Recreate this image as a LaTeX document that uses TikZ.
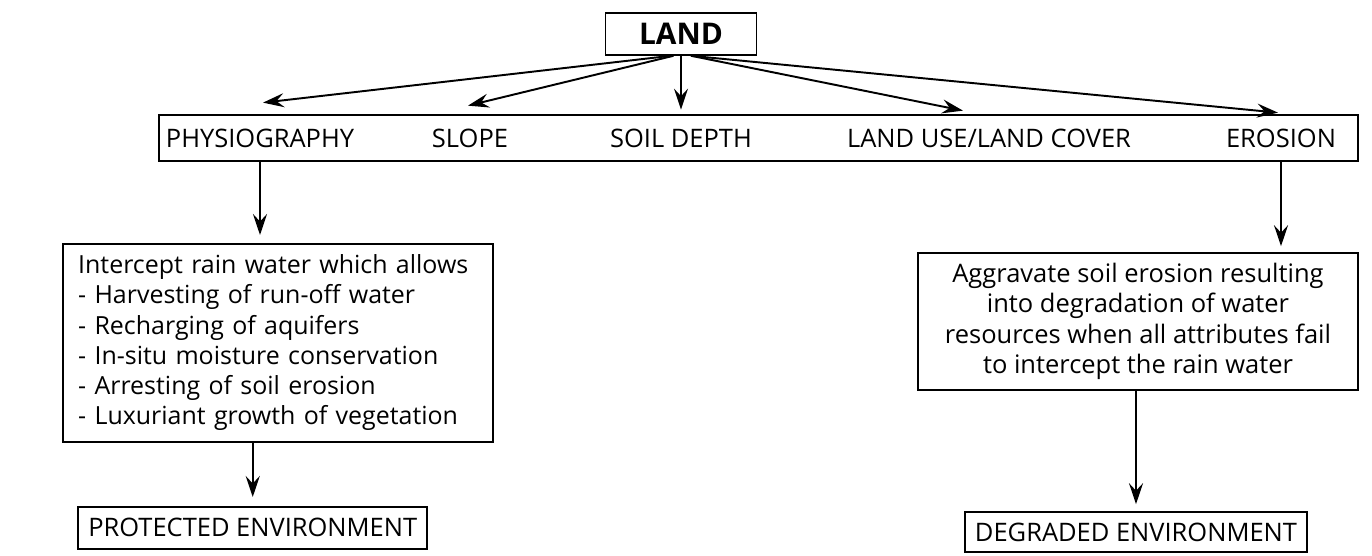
\documentclass[tikz,border=0pt]{standalone}
\usepackage{fontspec}
\setmainfont{Open Sans}
\usetikzlibrary{shapes,arrows.meta}

\begin{document}
\begin{tikzpicture}[
  box/.style={draw=black,line width=0.9pt,inner sep=4pt,font=\fontsize{14.5}{17.4}\selectfont},
  lbl/.style={draw=none,fill=none,minimum height=0.92cm,font=\fontsize{14.5}{17.4}\selectfont},
  arr/.style={-{Stealth[length=4.2mm,width=2.8mm,inset=1.5mm]},line width=1.1pt}
]
\useasboundingbox (0,0) rectangle (27.44,-11.12);
%Land
\draw(13.62,-0.68) node[box,minimum width=3.02cm,minimum height=0.84cm,font=\bfseries\fontsize{17}{20}\selectfont](land){LAND};
% Attributes
\node[box,minimum width=23.98cm,minimum height=0.92cm](attr) at (15.17,-2.76){};
\node[lbl](phys) at (5.2,-2.76){PHYSIOGRAPHY};
\node[lbl](slope) at (9.4,-2.76){SLOPE};
\node[lbl](depth) at (13.62,-2.76){SOIL DEPTH};
\node[lbl](luse) at (19.78,-2.76){LAND USE/LAND COVER};
\node[lbl](eros) at (25.62,-2.76){EROSION};
% Arrows
\draw[arr] ([xshift=-0.2cm]land.south) -- ([xshift=0.06cm,yshift=0.24cm]phys.north);
\draw[arr] ([xshift=-0.15cm]land.south) -- ([xshift=-0.04cm,yshift=0.18cm]slope.north);
\draw[arr] (land.south) -- ([yshift=0.1cm]depth.north);
\draw[arr] ([xshift=0.2cm]land.south) -- ([xshift=-0.52cm,yshift=0.08cm]luse.north);
\draw[arr] ([xshift=0.2cm]land.south) -- ([xshift=-0.06cm,yshift=0.04cm]eros.north);

% Protected side
\node[box,anchor=north east,align=left,text width=8.0cm,inner xsep=0.3cm,minimum height=3.96cm,font=\fontsize{14.2}{17.2}\selectfont](inter) at (9.88,-4.86){Intercept rain water which allows\\
- Harvesting of run-off water\\
- Recharging of aquifers\\
- In-situ moisture conservation\\
- Arresting of soil erosion\\
- Luxuriant growth of vegetation};
\node[box,anchor=north east,minimum height=0.84cm,inner xsep=0.2cm](prot) at (8.56,-10.12){PROTECTED ENVIRONMENT};
%% Arrows
\draw[arr,shorten >=0.16cm] (phys.south) -- (phys.south |- inter.north);
\draw[arr,shorten >=0.18cm] (prot.north |- inter.south) -- (prot.north);

% Degraded side
\node[box,align=center,minimum width=8.8cm,minimum height=2.74cm](harm) at (22.76,-6.43){Aggravate soil erosion resulting\\
into degradation of water\\
resources when all attributes fail\\
to intercept the rain water};
\node[box,minimum width=6.84cm,minimum height=0.8cm](degr) at (22.72,-10.64){DEGRADED ENVIRONMENT};
%% Arrows
\draw[arr,shorten >=0.12cm] (eros.south) -- (eros.south |- harm.north);
\draw[arr,shorten >=0.14cm] (degr.north |- harm.south) -- (degr.north);

\end{tikzpicture}
\end{document}
